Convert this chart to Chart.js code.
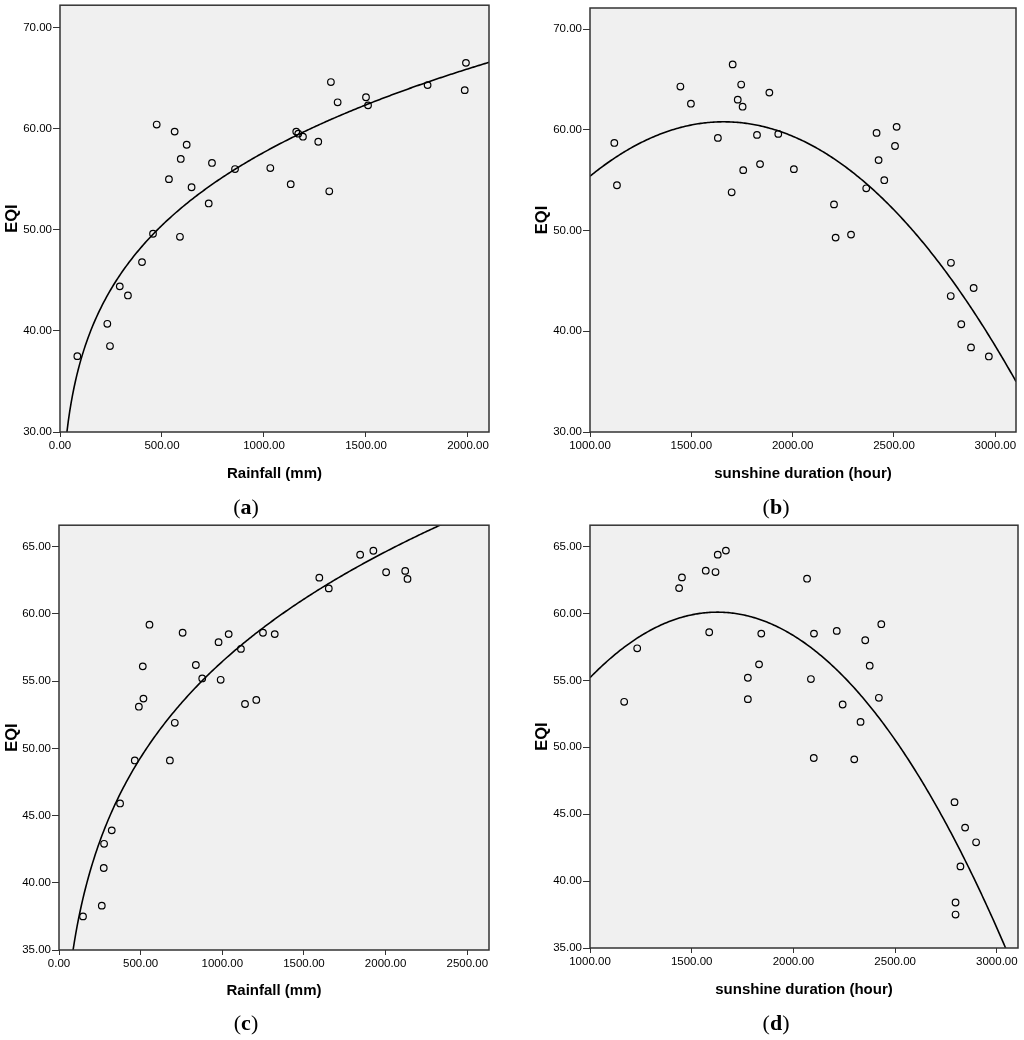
<!DOCTYPE html>
<html>
<head>
<meta charset="utf-8">
<script src="https://cdn.jsdelivr.net/npm/chart.js"></script>
<style>
  body { margin: 0; background: #fff; }
  #wrap { position: relative; width: 1024px; height: 1040px; }
  canvas { position: absolute; }
  .lab { position: absolute; width: 100px; text-align: center; font: 22px "Liberation Serif", serif; line-height: 24px; }
</style>
</head>
<body>
<div id="wrap">
  <canvas id="cA" width="512" height="520" style="left:0;top:0"></canvas>
  <canvas id="cB" width="512" height="520" style="left:512px;top:0"></canvas>
  <canvas id="cC" width="512" height="520" style="left:0;top:520px"></canvas>
  <canvas id="cD" width="512" height="520" style="left:512px;top:520px"></canvas>
  <div class="lab" style="left:196px;top:495px">(<b>a</b>)</div>
  <div class="lab" style="left:726px;top:495px">(<b>b</b>)</div>
  <div class="lab" style="left:196px;top:1011px">(<b>c</b>)</div>
  <div class="lab" style="left:726px;top:1011px">(<b>d</b>)</div>
</div>
<script>
// (a) rainfall vs EQI
const rainA = [474, 562, 621, 592, 534, 645, 745, 729, 858, 456, 588, 1031, 1131, 1320, 1158, 1168, 1191, 1266, 1328, 1361, 1500, 1510, 1802, 1984, 1990, 402, 293, 333, 232, 245, 85];
const eqiA  = [60.4, 59.7, 58.4, 57.0, 55.0, 54.2, 56.6, 52.6, 56.0, 49.6, 49.3, 56.1, 54.5, 53.8, 59.7, 59.5, 59.2, 58.7, 64.6, 62.6, 63.1, 62.3, 64.3, 63.8, 66.5, 46.8, 44.4, 43.5, 40.7, 38.5, 37.5];
// (b) sunshine vs EQI
const sunB = [1120, 1133, 1446, 1498, 1631, 1704, 1746, 1729, 1753, 1885, 1824, 1929, 1756, 1839, 1699, 2006, 2204, 2212, 2288, 2363, 2414, 2424, 2452, 2505, 2513, 2781, 2780, 2893, 2832, 2880, 2968];
const eqiB = [58.7, 54.5, 64.3, 62.6, 59.2, 66.5, 64.5, 63.0, 62.3, 63.7, 59.5, 59.6, 56.0, 56.6, 53.8, 56.1, 52.6, 49.3, 49.6, 54.2, 59.7, 57.0, 55.0, 58.4, 60.3, 46.8, 43.5, 44.3, 40.7, 38.4, 37.5];
// (c) rainfall vs EQI
const rainC = [554, 513, 517, 489, 757, 838, 877, 977, 1039, 990, 1114, 1139, 1208, 1249, 1321, 709, 679, 464, 1594, 1652, 1844, 1925, 2003, 2120, 2134, 374, 323, 276, 274, 262, 147];
const eqiC  = [59.2, 56.1, 53.7, 53.1, 58.6, 56.2, 55.2, 57.9, 58.5, 55.1, 57.4, 53.3, 53.6, 58.6, 58.5, 51.9, 49.1, 49.1, 62.7, 61.9, 64.4, 64.7, 63.1, 63.2, 62.6, 45.9, 43.9, 42.9, 41.1, 38.3, 37.5];
// (d) sunshine vs EQI
const sunD = [1168, 1232, 1438, 1452, 1569, 1617, 1628, 1668, 1586, 1776, 1776, 1831, 1842, 2067, 2086, 2101, 2100, 2213, 2242, 2299, 2330, 2353, 2375, 2420, 2432, 2792, 2844, 2898, 2821, 2797, 2797];
const eqiD = [53.4, 57.4, 61.9, 62.7, 63.2, 63.1, 64.4, 64.7, 58.6, 55.2, 53.6, 56.2, 58.5, 62.6, 55.1, 58.5, 49.2, 58.7, 53.2, 49.1, 51.9, 58.0, 56.1, 53.7, 59.2, 45.9, 44.0, 42.9, 41.1, 38.4, 37.5];

// tick values
const rainTicksA = [0, 500, 1000, 1500, 2000];
const rainTicksC = [0, 500, 1000, 1500, 2000, 2500];
const sunTicks = [1000, 1500, 2000, 2500, 3000];
const eqiTicksTop = [30, 40, 50, 60, 70];
const eqiTicksBot = [35, 40, 45, 50, 55, 60, 65];

// fitted curves
const fitA = { a: 15.2, b: 0.193 };            // power: y = a * x^b
const fitB = { h: 1660, top: 60.8, k: 1.24e-5 }; // quadratic: y = top - k (x-h)^2
const fitC = { a: 14.68, b: 0.195 };
const fitD = { h: 1626, top: 60.1, k: 1.25e-5 };

function curve(x0, x1, f) {
  const pts = [];
  for (let i = 0; i <= 300; i++) {
    const x = x0 + (x1 - x0) * i / 300;
    pts.push({ x: x, y: f(x) });
  }
  return pts;
}

const frame = {
  id: 'frame',
  beforeDraw(chart) {
    const a = chart.chartArea, c = chart.ctx;
    c.save();
    c.fillStyle = '#f0f0f0';
    c.fillRect(a.left, a.top, a.right - a.left, a.bottom - a.top);
    c.restore();
  },
  afterDraw(chart) {
    const a = chart.chartArea, c = chart.ctx;
    c.save();
    c.strokeStyle = '#333';
    c.lineWidth = 1.5;
    c.strokeRect(a.left, a.top, a.right - a.left, a.bottom - a.top);
    c.restore();
  }
};

const tickFont = { family: 'Liberation Sans', size: 11.5 };

function panel(id, o) {
  new Chart(document.getElementById(id), {
    type: 'scatter',
    data: {
      datasets: [{
        data: o.xs.map((x, i) => ({ x: x, y: o.ys[i] })),
        pointRadius: 3.3,
        pointBorderWidth: 1.2,
        borderColor: '#000',
        backgroundColor: 'rgba(0,0,0,0)'
      }, {
        data: o.line,
        showLine: true,
        pointRadius: 0,
        borderColor: '#000',
        borderWidth: 1.6,
        tension: 0
      }]
    },
    options: {
      responsive: false,
      animation: false,
      layout: { padding: { left: 0, top: o.top, right: o.right, bottom: 0 } },
      plugins: { legend: { display: false }, tooltip: { enabled: false } },
      scales: {
        x: {
          type: 'linear', min: o.xmin, max: o.xmax,
          afterBuildTicks(s) { s.ticks = o.xticks.map(v => ({ value: v })); },
          afterFit(s) { s.height = o.xh; s.paddingLeft = 0; s.paddingRight = 0; },
          grid: { drawOnChartArea: false, tickLength: 5, color: '#333' },
          border: { display: false },
          ticks: { padding: 2, color: '#000', font: tickFont, autoSkip: false,
                   maxRotation: 0, callback: v => v.toFixed(2) },
          title: { display: true, text: o.xt, color: '#000',
                   font: { family: 'Liberation Sans', size: 15, weight: 'bold' },
                   padding: { bottom: o.xtPad } }
        },
        y: {
          min: o.ymin, max: o.ymax,
          afterBuildTicks(s) { s.ticks = o.yticks.map(v => ({ value: v })); },
          afterFit(s) { s.width = o.yw; s.paddingTop = 0; s.paddingBottom = 0; },
          grid: { drawOnChartArea: false, tickLength: 7, color: '#333' },
          border: { display: false },
          ticks: { padding: 1, color: '#000', font: tickFont, autoSkip: false,
                   callback: v => v.toFixed(2) },
          title: { display: true, text: 'EQI', color: '#000',
                   font: { family: 'Liberation Sans', size: 16.5, weight: 'bold' },
                   padding: { top: o.ytPad } }
        }
      }
    },
    plugins: [frame]
  });
}

panel('cA', { xs: rainA, ys: eqiA, xmin: 0, xmax: 2103, ymin: 30, ymax: 72.2,
  xticks: rainTicksA, yticks: eqiTicksTop,
  line: curve(20, 2103, x => fitA.a * Math.pow(x, fitA.b)),
  top: 5, right: 23, yw: 60, xh: 88, xt: 'Rainfall (mm)', xtPad: 37, ytPad: 3 });
panel('cB', { xs: sunB, ys: eqiB, xmin: 1000, xmax: 3102, ymin: 30, ymax: 72.1,
  xticks: sunTicks, yticks: eqiTicksTop,
  line: curve(1000, 3102, x => fitB.top - fitB.k * (x - fitB.h) * (x - fitB.h)),
  top: 8, right: 8, yw: 78, xh: 88, xt: 'sunshine duration (hour)', xtPad: 37, ytPad: 21 });
panel('cC', { xs: rainC, ys: eqiC, xmin: 0, xmax: 2633, ymin: 35, ymax: 66.6,
  xticks: rainTicksC, yticks: eqiTicksBot,
  line: curve(60, 2633, x => fitC.a * Math.pow(x, fitC.b)),
  top: 3, right: 23, yw: 59, xh: 90, xt: 'Rainfall (mm)', xtPad: 40, ytPad: 3 });
panel('cD', { xs: sunD, ys: eqiD, xmin: 1000, xmax: 3104, ymin: 35, ymax: 66.6,
  xticks: sunTicks, yticks: eqiTicksBot,
  line: curve(1000, 3104, x => fitD.top - fitD.k * (x - fitD.h) * (x - fitD.h)),
  top: 3, right: 6, yw: 78, xh: 92, xt: 'sunshine duration (hour)', xtPad: 41, ytPad: 21 });
</script>
</body>
</html>
